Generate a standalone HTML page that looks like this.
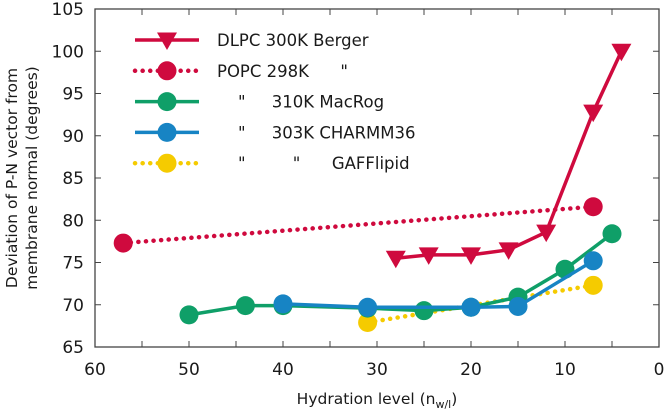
<!DOCTYPE html>
<html><head><meta charset="utf-8"><style>
body{margin:0;background:#fff}
svg text{font-family:"DejaVu Sans","Liberation Sans",sans-serif;fill:#1a1a1a}
</style></head><body>
<svg id="chart" width="666" height="411" xmlns="http://www.w3.org/2000/svg"></svg>
<script>
const xTicks=[60,50,40,30,20,10,0];
const yTicks=[65,70,75,80,85,90,95,100,105];
const dlpcX=[28,24.5,20,16,12,7,4];
const dlpcY=[75.5,75.9,75.9,76.5,78.6,92.8,100];
const popcX=[57,7];
const popcY=[77.3,81.6];
const macrogX=[50,44,40,31,25,20,15,10,5];
const macrogY=[68.8,69.9,69.9,69.6,69.3,69.7,70.9,74.2,78.4];
const charmmX=[40,31,20,15,7];
const charmmY=[70.1,69.7,69.7,69.8,75.2];
const gaffX=[31,7];
const gaffY=[67.9,72.3];
const L=95,R=659,T=9,B=347;
const sx=v=>L+(60-v)/60*(R-L);
const sy=v=>B-(v-65)/40*(B-T);
const svg=document.getElementById('chart');
const NS='http://www.w3.org/2000/svg';
function mk(tag,attrs,parent){const e=document.createElementNS(NS,tag);for(const k in attrs)e.setAttribute(k,attrs[k]);(parent||svg).appendChild(e);return e;}
const frame=mk('rect',{x:L,y:T,width:R-L,height:B-T,fill:'none',stroke:'#444','stroke-width':1.3});


for(let v=60;v>=0;v-=5){
  const t1=mk('line',{x1:sx(v),x2:sx(v),y1:B,y2:B-6,stroke:'#444'});
  
  
  const t2=mk('line',{x1:sx(v),x2:sx(v),y1:T,y2:T+6,stroke:'#444'});
  
  
}
xTicks.forEach(v=>{
  const t=mk('text',{x:sx(v),y:375,'text-anchor':'middle','font-size':17});
  t.textContent=v;
  
  
});
yTicks.forEach(v=>{
  const a=mk('line',{x1:L,x2:L+6,y1:sy(v),y2:sy(v),stroke:'#444'});
  
  
  const b=mk('line',{x1:R,x2:R-6,y1:sy(v),y2:sy(v),stroke:'#444'});
  
  
  const t=mk('text',{x:84,y:sy(v)+6,'text-anchor':'end','font-size':17});
  t.textContent=v;
  
  
});
const xt=mk('text',{x:377,y:404,'text-anchor':'middle','font-size':15.5});
xt.innerHTML='Hydration level (n<tspan font-size="11" dy="4">w/l</tspan><tspan dy="-4">)</tspan>';


const yt=mk('text',{transform:'translate(17,178) rotate(-90)','text-anchor':'middle','font-size':15.5});
yt.innerHTML='<tspan x="0" dy="0">Deviation of P-N vector from</tspan><tspan x="0" dy="20">membrane normal (degrees)</tspan>';


function marker(g,x,y,color,tri){
  if(tri){const s=10;return mk('path',{d:`M${x-s},${y-s*0.75}L${x+s},${y-s*0.75}L${x},${y+s*1.0}Z`,fill:color},g);}
  return mk('circle',{cx:x,cy:y,r:9.5,fill:color},g);
}
function lineAttrs(color,dash){
  return dash?{stroke:color,'stroke-width':4.5,'stroke-dasharray':'0.1,7.5','stroke-linecap':'round'}:{stroke:color,'stroke-width':3.5};
}
function series(name,xs,ys,color,dash,tri){
  const g=mk('g',{});
  
  
  mk('polyline',Object.assign({points:xs.map((v,i)=>sx(v)+','+sy(ys[i])).join(' '),fill:'none'},lineAttrs(color,dash)),g);
  xs.forEach((v,i)=>{const m=marker(g,sx(v),sy(ys[i]),color,tri);
    
    });
}
series('series-popc',popcX,popcY,'#cf0a3e',true,false);
series('series-gaff',gaffX,gaffY,'#f5cb00',true,false);
series('series-macrog',macrogX,macrogY,'#0f9f68',false,false);
series('series-charmm',charmmX,charmmY,'#1784c4',false,false);
series('series-dlpc',dlpcX,dlpcY,'#cf0a3e',false,true);
const leg=[['DLPC 300K Berger','#cf0a3e',false,true],['POPC 298K      "','#cf0a3e',true,false],['    "     310K MacRog','#0f9f68',false,false],['    "     303K CHARMM36','#1784c4',false,false],['    "         "      GAFFlipid','#f5cb00',true,false]];
leg.forEach((d,i)=>{
  const y=40+i*30.8;
  const g=mk('g',{});
  
  
  mk('line',Object.assign({x1:135,x2:199,y1:y,y2:y},lineAttrs(d[1],d[2])),g);
  marker(g,167,y,d[1],d[3]);
  const t=mk('text',{x:217,y:y+6,'font-size':16.5},g);
  t.setAttribute('style','white-space:pre');
  t.textContent=d[0];
});
</script>
</body></html>
